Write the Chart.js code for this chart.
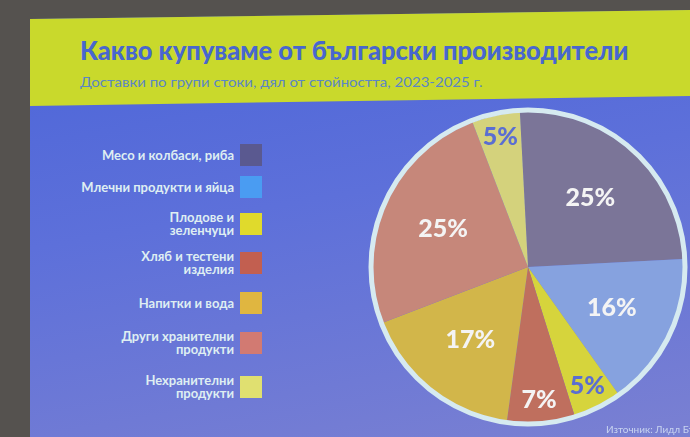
<!DOCTYPE html>
<html>
<head>
<meta charset="utf-8">
<script src="https://cdn.jsdelivr.net/npm/chart.js@4"></script>
<style>
  html, body { margin: 0; padding: 0; }
  body { width: 690px; height: 437px; position: relative; overflow: hidden; background: #55524f; font-family: Lato, "Open Sans", sans-serif; }
  #slide { position: absolute; left: 30px; top: 0; width: 660px; height: 437px;
           background: linear-gradient(170deg, #4a64d8 0%, #5d70da 45%, #7a80d2 100%);
           clip-path: polygon(0 19px, 100% 10px, 100% 100%, 0 100%); }
  #band { position: absolute; left: 30px; top: 0; width: 660px; height: 108px; background: #c9d92c;
          clip-path: polygon(0 19px, 100% 10px, 100% 96px, 0 106px); }
  #title { position: absolute; left: 80px; top: 33px; font-size: 27px; font-weight: 900; color: #4867cf; transform-origin: 0 0; white-space: nowrap; }
  #subtitle { position: absolute; left: 80px; top: 73px; font-size: 14px; color: #5b86c4; transform-origin: 0 0; white-space: nowrap; }
  #legend { position: absolute; left: 40px; top: 0; width: 222px; height: 437px; }
  .item { position: absolute; right: 0; display: flex; align-items: center; }
  .item span { text-align: right; white-space: pre-line; font-weight: 700; font-size: 13px; line-height: 13px; color: #dfeef2; margin-right: 6px; }
  .item i { display: block; width: 22px; height: 22px; }
  #wrap { position: absolute; left: 368px; top: 107px; width: 320px; height: 320px; }
  #source { position: absolute; left: 606px; top: 423px; font-size: 10px; color: #c8d4f0; white-space: nowrap; }
</style>
</head>
<body>
<div id="slide"></div>
<div id="band"></div>
<div id="title">Какво купуваме от български производители</div>
<div id="subtitle">Доставки по групи стоки, дял от стойността, 2023-2025 г.</div>
<div id="legend"></div>
<div id="wrap"><canvas id="pie"></canvas></div>
<div id="source">Източник: Лидл България</div>
<script>
const categories = ['Месо и колбаси, риба', 'Млечни продукти и яйца', 'Плодове и\nзеленчуци', 'Хляб и тестени\nизделия', 'Напитки и вода', 'Други хранителни\nпродукти', 'Нехранителни\nпродукти'];
const shares = [25, 16, 5, 7, 17, 25, 5];
const sliceColors = ['#7b7598', '#86a2df', '#d6d43c', '#bf6f5e', '#d2b64a', '#c6877a', '#d4d27c'];
const legendColors = ['#5a5990', '#4a9cf2', '#e0da2c', '#c25f50', '#e0b640', '#d27a72', '#e0e070'];
const labelColors = ['#f4f4f4', '#f4f4f4', '#5a6ed2', '#f4f4f4', '#f4f4f4', '#f4f4f4', '#5a6ed2'];
const legendRows = [155, 187, 224, 263, 303, 343, 387];

// stretch heading text to the width it has on the slide
function stretch(id, width) {
    const el = document.getElementById(id);
    el.style.transform = 'scaleX(' + (width / el.offsetWidth) + ')';
}
stretch('title', 548);
stretch('subtitle', 403);

const legend = document.getElementById('legend');
categories.forEach((name, i) => {
    const div = document.createElement('div');
    div.className = 'item';
    div.innerHTML = '<span></span><i></i>';
    div.querySelector('span').textContent = name;
    div.querySelector('i').style.background = legendColors[i];
    legend.appendChild(div);
    div.style.top = (legendRows[i] - div.offsetHeight / 2) + 'px';
});

// percentage labels inside slices + white ring around the pie
const sliceLabels = {
    id: 'sliceLabels',
    afterDatasetsDraw(chart) {
        const ctx = chart.ctx;
        const arcs = chart.getDatasetMeta(0).data;
        const a0 = arcs[0].getProps(['x', 'y', 'outerRadius'], true);
        ctx.save();
        ctx.beginPath();
        ctx.arc(a0.x, a0.y, a0.outerRadius + 2, 0, Math.PI * 2);
        ctx.strokeStyle = '#d6eaf0';
        ctx.lineWidth = 5;
        ctx.stroke();
        ctx.font = '900 25px Lato, sans-serif';
        ctx.textAlign = 'center';
        ctx.textBaseline = 'middle';
        arcs.forEach((arc, i) => {
            const p = arc.getProps(['x', 'y', 'startAngle', 'endAngle', 'outerRadius'], true);
            const mid = (p.startAngle + p.endAngle) / 2;
            const f = shares[i] < 10 ? 0.86 : 0.6;
            ctx.fillStyle = labelColors[i];
            ctx.fillText(shares[i] + '%', p.x + Math.cos(mid) * p.outerRadius * f, p.y + Math.sin(mid) * p.outerRadius * f);
        });
        ctx.restore();
    }
};

new Chart(document.getElementById('pie'), {
    type: 'pie',
    data: {
        labels: categories,
        datasets: [{ data: shares, backgroundColor: sliceColors, borderWidth: 0 }]
    },
    options: {
        responsive: true,
        maintainAspectRatio: false,
        animation: false,
        rotation: -3,
        layout: { padding: 5 },
        plugins: { legend: { display: false }, tooltip: { enabled: false } }
    },
    plugins: [sliceLabels]
});
</script>
</body>
</html>
